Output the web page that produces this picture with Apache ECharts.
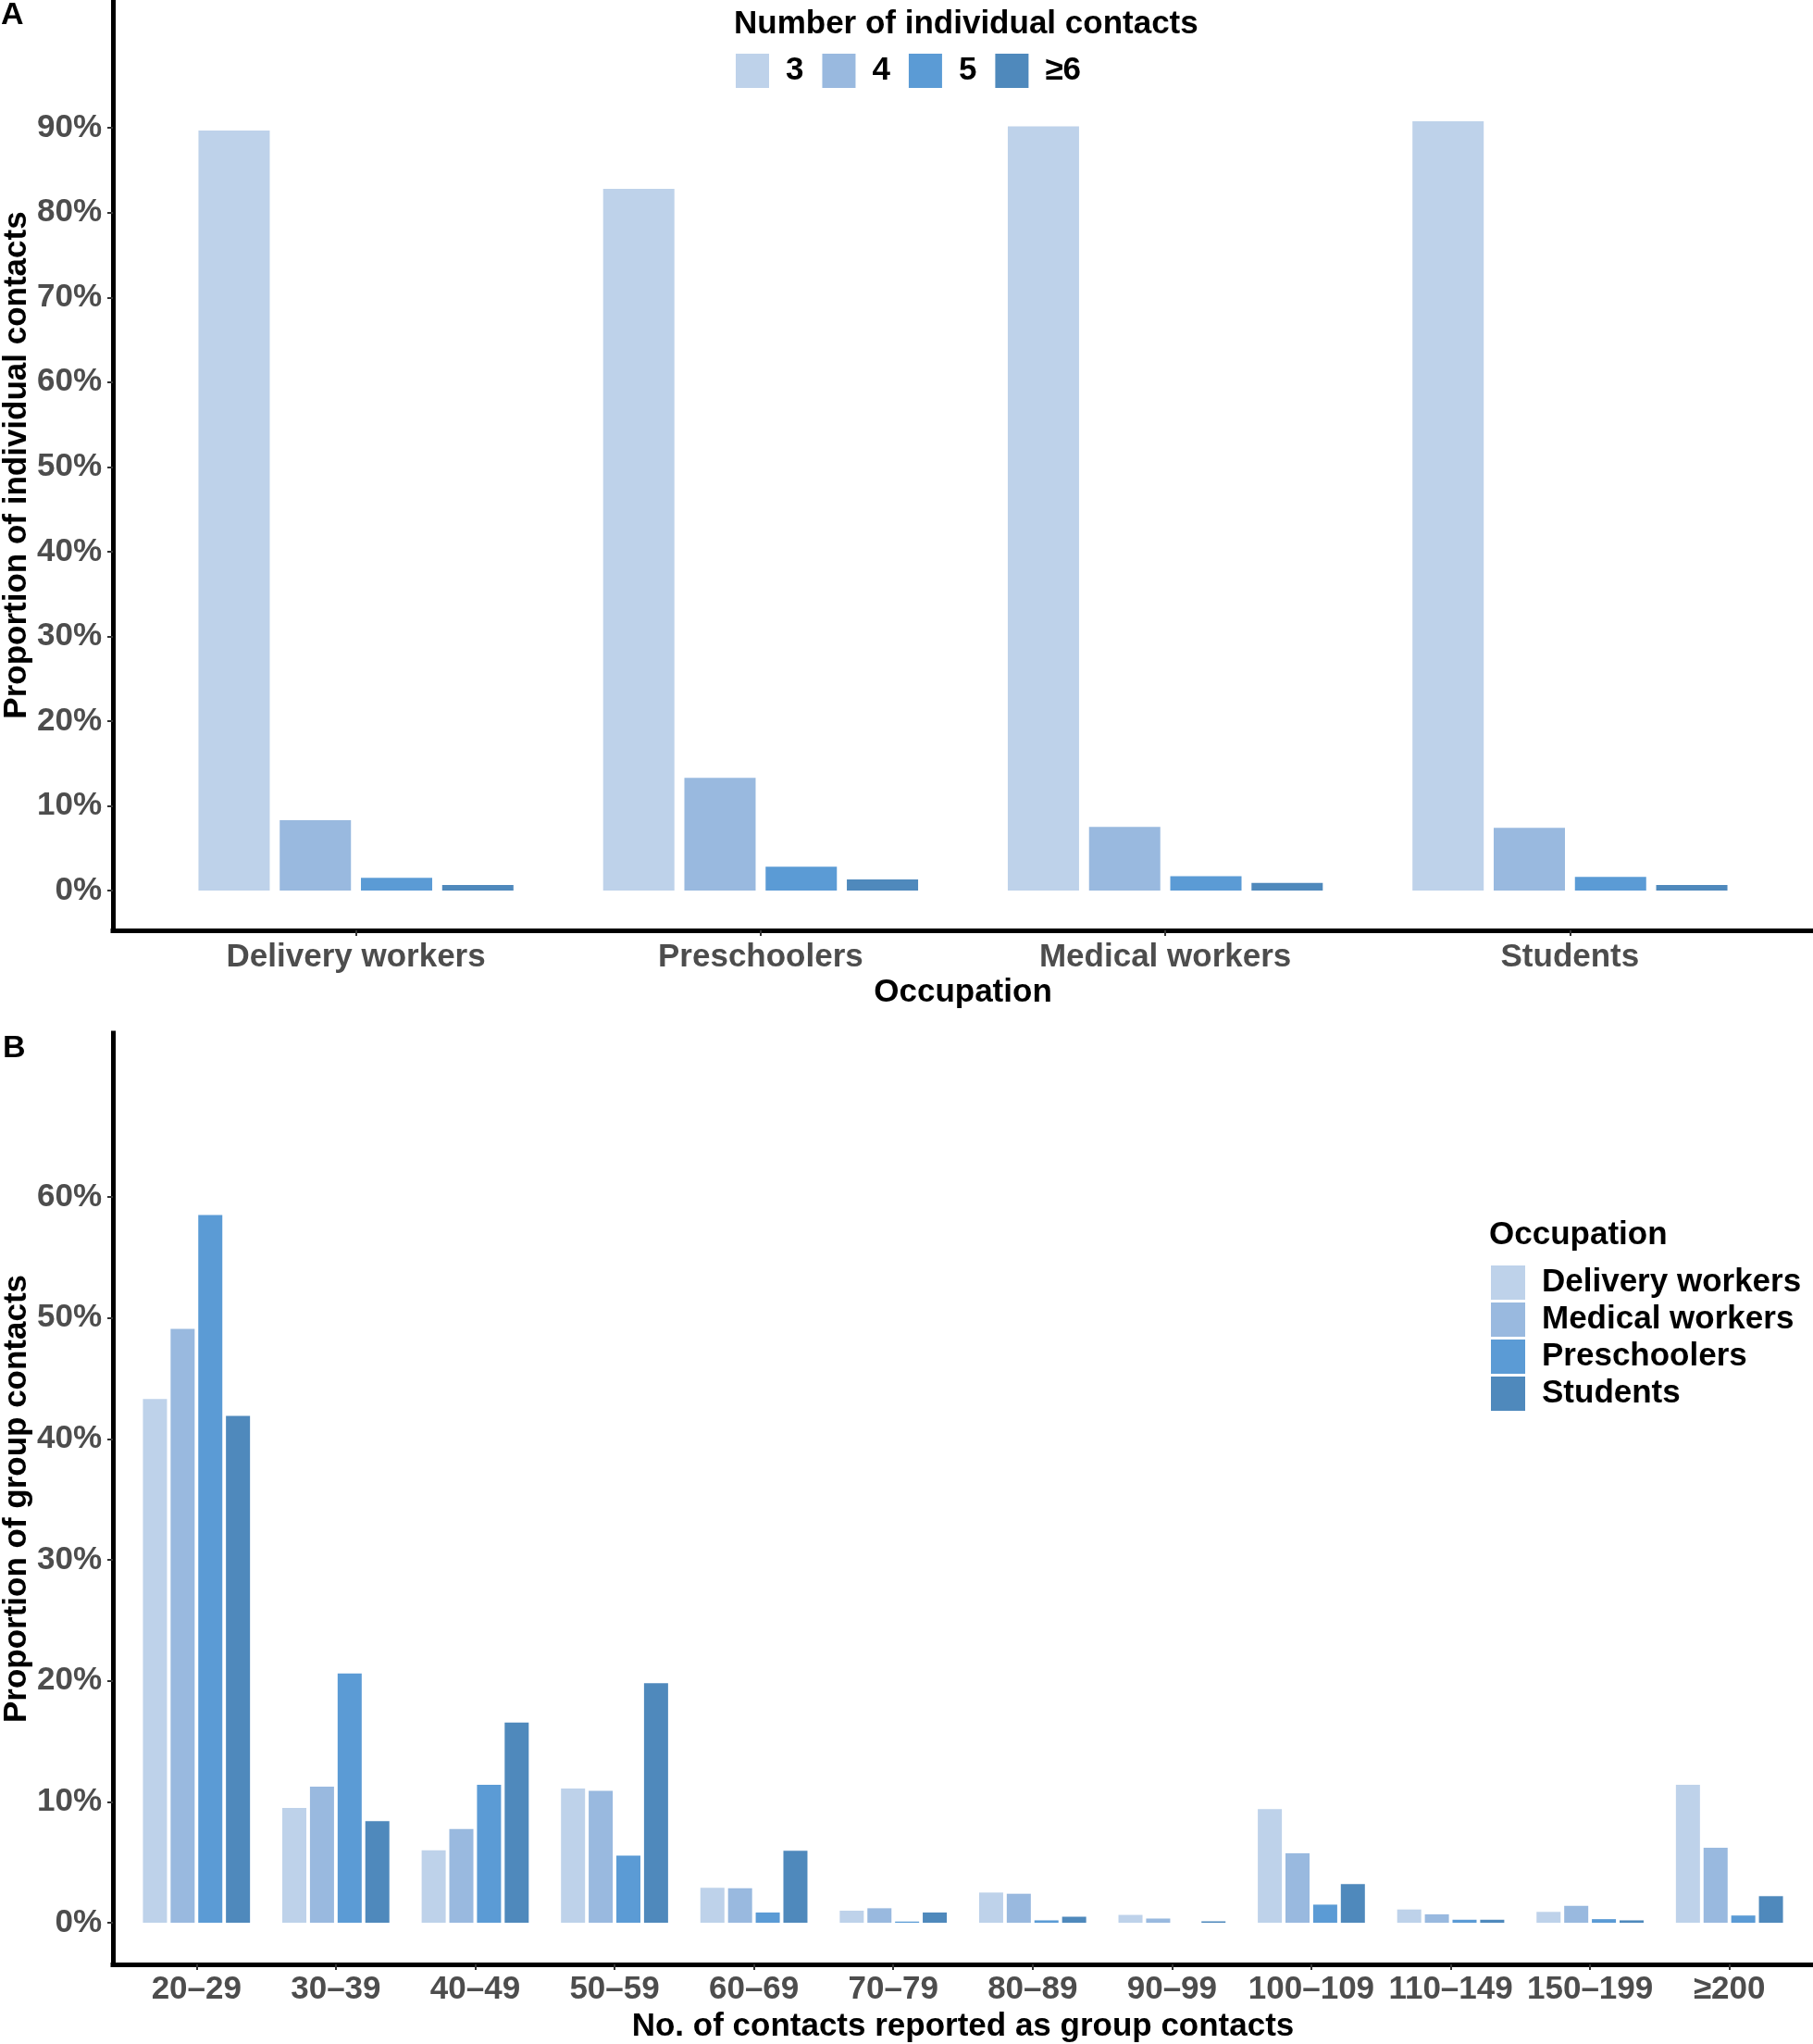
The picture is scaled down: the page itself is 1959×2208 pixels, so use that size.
<!DOCTYPE html>
<html>
<head>
<meta charset="utf-8">
<script src="https://cdn.jsdelivr.net/npm/echarts@6/dist/echarts.min.js"></script>
<style>
  html, body { margin: 0; padding: 0; background: #fff; }
  #chart { width: 1959px; height: 2208px; }
</style>
</head>
<body>
<div id="chart"></div>
<script>
// Panel A: share of individual contacts by number of contacts
const occupationsA = ['Delivery workers', 'Preschoolers', 'Medical workers', 'Students']
const contactCounts = ['3', '4', '5', '≥6']
const share3 = [89.7, 82.8, 90.2, 90.8]
const share4 = [8.3, 13.3, 7.5, 7.4]
const share5 = [1.5, 2.8, 1.7, 1.6]
const share6plus = [0.65, 1.3, 0.9, 0.65]
const ticksA = [0, 10, 20, 30, 40, 50, 60, 70, 80, 90]

// Panel B: share of group contacts by group size
const groupBins = ['20–29', '30–39', '40–49', '50–59', '60–69', '70–79', '80–89', '90–99', '100–109', '110–149', '150–199', '≥200']
const occupationsB = ['Delivery workers', 'Medical workers', 'Preschoolers', 'Students']
const deliveryB = [43.3, 9.5, 6.0, 11.1, 2.9, 1.0, 2.5, 0.65, 9.4, 1.1, 0.9, 11.4]
const medicalB = [49.1, 11.25, 7.75, 10.9, 2.85, 1.2, 2.4, 0.35, 5.75, 0.7, 1.4, 6.2]
const preschoolB = [58.5, 20.6, 11.4, 5.55, 0.85, 0.1, 0.2, 0, 1.5, 0.25, 0.3, 0.6]
const studentB = [41.9, 8.4, 16.55, 19.8, 5.95, 0.85, 0.5, 0.12, 3.2, 0.25, 0.2, 2.2]
const ticksB = [0, 10, 20, 30, 40, 50, 60]

const colors = ['#BED2EA', '#99B9DF', '#5B9BD5', '#4F89BC']
const FONT = '"Liberation Sans", Arial, sans-serif'

const chart = echarts.init(document.getElementById('chart'))

const axisLineStyle = { show: true, onZero: false, lineStyle: { color: '#000', width: 5, cap: 'square' } }
const tickStyle = { show: true, length: 6, lineStyle: { color: '#333', width: 2 } }
const labelStyle = { fontSize: 35, fontWeight: 'bold', color: '#4D4D4D', fontFamily: FONT }
const nameStyle = { fontSize: 35, fontWeight: 'bold', color: '#000', fontFamily: FONT }
const panelStyle = { fontSize: 34, fontWeight: 'bold', color: '#000', fontFamily: FONT }

const rangeA = { min: -4.7, max: 105.1 }
const rangeB = { min: -3.44, max: 73.54 }

// frame axis: only the black line
const frameX = gridIndex => ({
  gridIndex, type: 'value', min: 0, max: 1,
  axisLine: axisLineStyle, axisTick: { show: false }, axisLabel: { show: false }, splitLine: { show: false }
})

const frameY = (gridIndex, range, ticks, name) => ({
  gridIndex, type: 'value', min: range.min, max: range.max,
  name, nameLocation: 'middle', nameGap: 86, nameMoveOverlap: false, nameTextStyle: nameStyle,
  axisLine: axisLineStyle,
  axisTick: Object.assign({ customValues: ticks }, tickStyle),
  axisLabel: Object.assign({ customValues: ticks, margin: 12, formatter: v => v + '%' }, labelStyle),
  splitLine: { show: false }
})

const dataX = (gridIndex, cats, name, nameGap, margin) => ({
  gridIndex, type: 'category', data: cats,
  name, nameLocation: 'middle', nameGap, nameTextStyle: nameStyle,
  axisLine: { show: false, onZero: false },
  axisTick: Object.assign({ alignWithLabel: true }, tickStyle),
  axisLabel: Object.assign({ margin, interval: 0 }, labelStyle)
})

const dataY = (gridIndex, range) => ({
  gridIndex, type: 'value', min: range.min, max: range.max, show: false, splitLine: { show: false }
})

const seriesA = [share3, share4, share5, share6plus].map((d, i) => ({
  name: contactCounts[i], type: 'bar', xAxisIndex: 1, yAxisIndex: 1,
  data: d, barWidth: 77, barGap: '14%', itemStyle: { color: colors[i] }
}))

const seriesB = [deliveryB, medicalB, preschoolB, studentB].map((d, i) => ({
  name: occupationsB[i], type: 'bar', xAxisIndex: 3, yAxisIndex: 3,
  data: d, barWidth: 26, barGap: '15%', itemStyle: { color: colors[i] }
}))

const option = {
  animation: false,
  backgroundColor: '#fff',
  title: [
    { text: 'A', left: 1, top: 0, padding: 0, textStyle: panelStyle },
    { text: 'B', left: 3, top: 1116, padding: 0, textStyle: panelStyle },
    { text: 'Number of individual contacts', left: 793, top: 9, padding: 0, textStyle: nameStyle },
    { text: 'Occupation', left: 1609, top: 1317, padding: 0, textStyle: nameStyle }
  ],
  legend: [
    {
      data: contactCounts, left: 795, top: 58, orient: 'horizontal', padding: 0,
      icon: 'rect', itemWidth: 36, itemHeight: 37, itemGap: 20,
      textStyle: { fontSize: 35, fontWeight: 'bold', color: '#000', fontFamily: FONT, padding: [0, 0, 0, 13] }
    },
    {
      data: occupationsB, left: 1611, top: 1367, orient: 'vertical', padding: 0,
      icon: 'rect', itemWidth: 37, itemHeight: 37, itemGap: 3,
      textStyle: { fontSize: 35, fontWeight: 'bold', color: '#000', fontFamily: FONT, padding: [0, 0, 0, 13] }
    }
  ],
  grid: [
    { left: 122, right: 0, top: 0, height: 1005, outerBoundsMode: 'none' },
    { left: 166, right: 44, top: 0, height: 1005, outerBoundsMode: 'none' },
    { left: 122, right: 0, top: 1116, height: 1006, outerBoundsMode: 'none' },
    { left: 137, right: 15, top: 1116, height: 1006, outerBoundsMode: 'none' }
  ],
  xAxis: [
    frameX(0),
    dataX(1, occupationsA, 'Occupation', 50, 12),
    frameX(2),
    dataX(3, groupBins, 'No. of contacts reported as group contacts', 50, 10)
  ],
  yAxis: [
    frameY(0, rangeA, ticksA, 'Proportion of individual contacts'),
    dataY(1, rangeA),
    frameY(2, rangeB, ticksB, 'Proportion of group contacts'),
    dataY(3, rangeB)
  ],
  series: seriesA.concat(seriesB)
}

chart.setOption(option)
</script>
</body>
</html>
